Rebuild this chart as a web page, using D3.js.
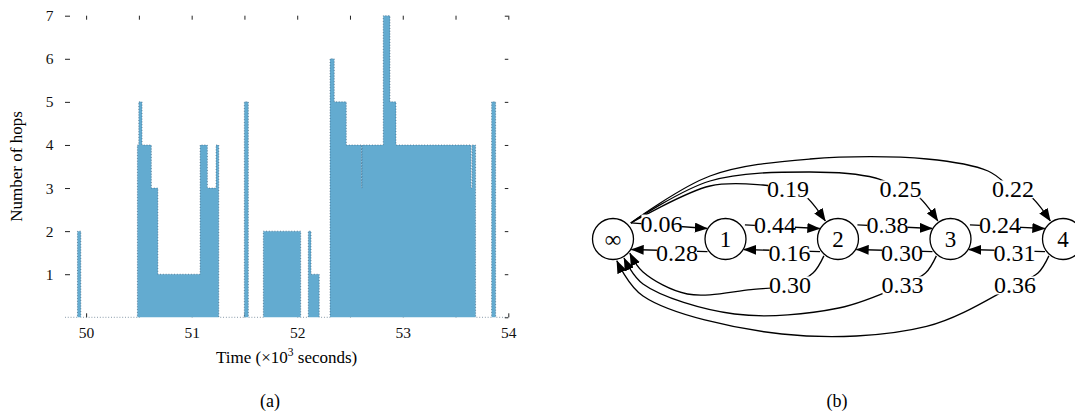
<!DOCTYPE html>
<html>
<head>
<meta charset="utf-8">
<script src="https://cdn.jsdelivr.net/npm/d3@7"></script>
<style>
  body { margin: 0; background: #fff; }
  svg, svg text { font-family: "Liberation Serif", "DejaVu Serif", serif; }
  svg { display: block; }
</style>
</head>
<body>
<svg id="fig" width="1075" height="412"></svg>
<script>
// (a) number of hops over time (x in 10^3 s), value holds until next time
const stepTimes = [49.80, 49.918, 49.95, 50.486, 50.499, 50.53, 50.618, 50.68, 51.08, 51.149,
  51.231, 51.257, 51.499, 51.537, 51.679, 52.033, 52.105, 52.131, 52.209, 52.311, 52.351,
  52.465, 52.61, 52.613, 52.815, 52.879, 52.936, 53.648, 53.657, 53.69, 53.842, 53.88, 54.0];
const stepHops = [0, 2, 0, 4, 5, 4, 3, 1, 4, 3,
  4, 0, 5, 0, 2, 0, 2, 1, 0, 6,
  5, 4, 3, 4, 7, 5, 4, 3, 4, 0, 5, 0, 0];
const xTickLabels = [50, 51, 52, 53, 54];
const yTickLabels = [1, 2, 3, 4, 5, 6, 7];

// (b) transition probabilities between hop states
const nodes = ['∞', '1', '2', '3', '4'];
const edgeFrom = ['∞', '1', '1', '2', '2', '3', '3', '4', '∞', '∞', '∞', '2', '3', '4'];
const edgeTo   = ['1', '∞', '2', '1', '3', '2', '4', '3', '2', '3', '4', '∞', '∞', '∞'];
const edgeProb = [0.06, 0.28, 0.44, 0.16, 0.38, 0.30, 0.24, 0.31, 0.19, 0.25, 0.22, 0.30, 0.33, 0.36];

const svg = d3.select('#fig');

// ---------- (a) step chart ----------
const x = d3.scaleLinear().domain([49.8, 54]).range([65, 508.3]);
const y = d3.scaleLinear().domain([0, 7]).range([317.3, 15.7]);
const halfTicks = d3.range(50, 54.01, 0.5);

const plotA = svg.append('g');

function cleanAxis(g) {
  g.attr('font-family', null);
  g.select('.domain').remove();
  g.selectAll('.tick line').attr('stroke', '#222');
  g.selectAll('.tick text').attr('fill', '#111');
}

plotA.append('g')
  .attr('transform', `translate(0,${y(7)})`)
  .call(d3.axisTop(x).tickValues(halfTicks).tickSize(-4).tickFormat(''))
  .call(cleanAxis);

plotA.append('g')
  .attr('transform', `translate(0,${y(0)})`)
  .call(d3.axisBottom(x).tickValues(halfTicks).tickSize(-4).tickPadding(9.5)
    .tickFormat(d => xTickLabels.includes(d) ? d : ''))
  .call(cleanAxis)
  .attr('font-size', 15.5);

plotA.append('g')
  .attr('transform', `translate(${x(49.8)},0)`)
  .call(d3.axisLeft(y).tickValues(yTickLabels).tickSize(-5).tickPadding(11.5)
    .tickFormat(d3.format('d')))
  .call(cleanAxis)
  .attr('font-size', 15.5);

plotA.append('g')
  .attr('transform', `translate(${x(54)},0)`)
  .call(d3.axisRight(y).tickValues(d3.range(0, 8)).tickSize(-3.5).tickFormat(''))
  .call(cleanAxis);

const steps = stepTimes.map((t, i) => ({ t, h: stepHops[i] }));

plotA.append('path')
  .datum(steps)
  .attr('fill', '#63abd0')
  .attr('d', d3.area().curve(d3.curveStepAfter)
    .x(d => x(d.t)).y0(y(0)).y1(d => y(d.h)));

plotA.append('path')
  .datum(steps)
  .attr('fill', 'none')
  .attr('stroke', '#24435f')
  .attr('stroke-opacity', 0.75)
  .attr('stroke-width', 0.8)
  .attr('stroke-dasharray', '0.9,1.9')
  .attr('d', d3.line().curve(d3.curveStepAfter)
    .x(d => x(d.t)).y(d => y(d.h)));

plotA.append('text')
  .attr('transform', `translate(22,${(y(0) + y(7)) / 2}) rotate(-90)`)
  .attr('text-anchor', 'middle')
  .attr('font-size', 17)
  .text('Number of hops');

const xl = plotA.append('text')
  .attr('x', (x(49.8) + x(54)) / 2)
  .attr('y', 362.5)
  .attr('text-anchor', 'middle')
  .attr('font-size', 17);
xl.append('tspan').text('Time (×10');
xl.append('tspan').attr('font-size', 11.5).attr('dy', -6.5).text('3');
xl.append('tspan').attr('dy', 6.5).text(' seconds)');

svg.append('text').attr('x', 270).attr('y', 407).attr('text-anchor', 'middle')
  .attr('font-size', 18).text('(a)');
svg.append('text').attr('x', 837).attr('y', 407).attr('text-anchor', 'middle')
  .attr('font-size', 18).text('(b)');

// ---------- (b) transition graph ----------
const gx = d3.scalePoint().domain(nodes).range([613, 1063]);
const gy = 239, R = 20.5;
const rad = Math.PI / 180;
const at = (n, deg, r) => [gx(n) + r * Math.cos(deg * rad), gy + r * Math.sin(deg * rad)];
const lerp = (a, b, f) => [a[0] + (b[0] - a[0]) * f, a[1] + (b[1] - a[1]) * f];

function edgeGeom(s, t) {
  const i = nodes.indexOf(s), j = nodes.indexOf(t);
  const sx = gx(s), tx = gx(t), ox = gx(nodes[0]);
  if (j === i + 1) {          // neighbour, upper side
    const a = at(s, i === 0 ? -42 : -36, 24), b = at(t, -150, 21);
    const l = lerp(a, b, 0.4);
    return { pts: [a, b], label: [l[0], l[1] - 2] };
  }
  if (i === j + 1) {          // neighbour, lower side
    const a = at(s, 145, 22), b = at(t, 30, 21);
    const l = lerp(a, b, 0.4);
    return { pts: [a, b], label: [l[0], l[1] + 2] };
  }
  if (i === 0) {              // long jump over the top
    const n = j, peak = gy - (28 + 13 * n), lx = tx - 50, ly = gy - 50;
    const pts = [at(s, -42, 24), [ox + 97, peak + 8 * (n - 2) + 1]];
    for (let px = ox + 197; px < lx - 60; px += 117) pts.push([px, peak]);
    pts.push([lx - 25, peak + 6 * (n - 2)], [lx, ly], [lx + 17, ly + 7], at(t, -125, 22));
    return { pts, label: [lx, ly] };
  }
  // long jump back to ∞ under the bottom
  const n = i, D = 15 + 20 * n, bottom = gy + D, lx = sx - 48, ly = gy + 46, span = lx - ox;
  const pts = [at(s, 130, 22), [sx - 25, gy + 34], [lx, ly],
    [lx - 0.22 * span, bottom - 0.08 * D], [ox + 0.42 * span, bottom],
    [ox + 30, gy + 0.6 * D], at(t, 20 * n, 22)];
  return { pts, label: [lx, ly] };
}

const edges = edgeFrom.map((s, k) => ({ s, t: edgeTo[k], p: edgeProb[k], ...edgeGeom(s, edgeTo[k]) }));

svg.append('defs').append('marker')
  .attr('id', 'arrow')
  .attr('viewBox', '0 0 13 10')
  .attr('refX', 12.5).attr('refY', 5)
  .attr('markerWidth', 13).attr('markerHeight', 10)
  .attr('markerUnits', 'userSpaceOnUse')
  .attr('orient', 'auto')
  .append('path').attr('d', 'M0,0L13,5L0,10Z').attr('fill', '#000');

const edgeLine = d3.line().curve(d3.curveCatmullRom.alpha(0.5));
const plotB = svg.append('g');

plotB.selectAll('path.edge')
  .data(edges)
  .join('path')
  .attr('class', 'edge')
  .attr('fill', 'none')
  .attr('stroke', '#000')
  .attr('stroke-width', 1.3)
  .attr('marker-end', 'url(#arrow)')
  .attr('d', d => edgeLine(d.pts));

const fmt = d3.format('.2f');
const labels = plotB.selectAll('g.elabel')
  .data(edges)
  .join('g')
  .attr('class', 'elabel');

labels.append('text')
  .attr('x', d => d.label[0])
  .attr('y', d => d.label[1])
  .attr('dy', '0.35em')
  .attr('text-anchor', 'middle')
  .attr('font-size', 24)
  .text(d => fmt(d.p));

labels.each(function () {
  const g = d3.select(this);
  const b = g.select('text').node().getBBox();
  g.insert('rect', 'text')
    .attr('x', b.x + 1).attr('y', b.y + 4)
    .attr('width', b.width - 2).attr('height', b.height - 8)
    .attr('fill', '#fff');
});

const nodeG = plotB.selectAll('g.node')
  .data(nodes)
  .join('g')
  .attr('class', 'node')
  .attr('transform', d => `translate(${gx(d)},${gy})`);

nodeG.append('circle')
  .attr('r', R)
  .attr('fill', '#fff')
  .attr('stroke', '#000')
  .attr('stroke-width', 1.3);

nodeG.append('text')
  .attr('text-anchor', 'middle')
  .attr('dy', '0.35em')
  .attr('font-size', 23)
  .text(d => d);
</script>
</body>
</html>
